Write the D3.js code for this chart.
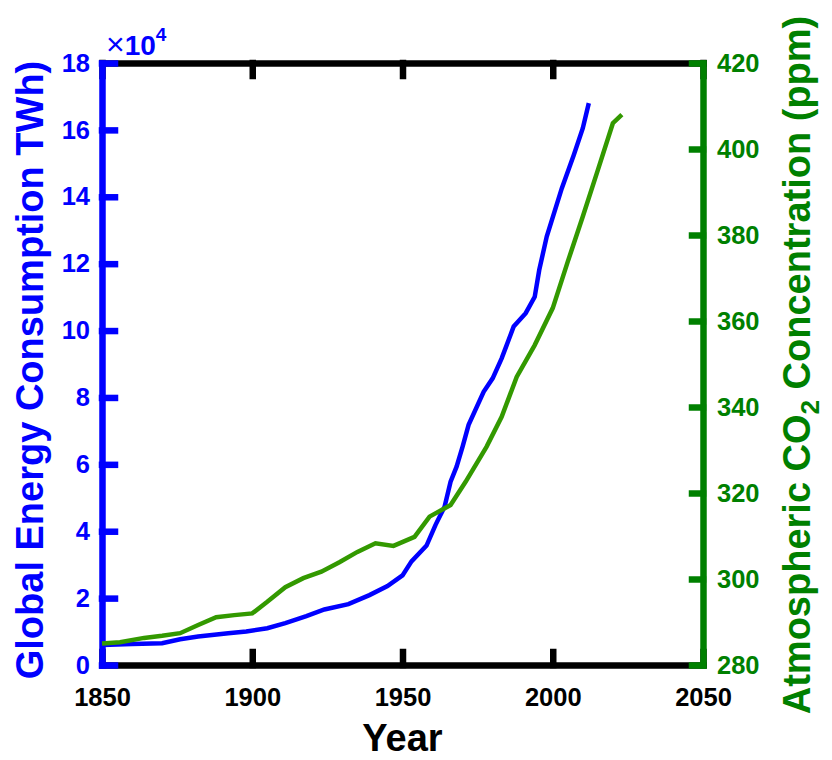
<!DOCTYPE html>
<head>
  <meta charset="utf-8">
  <script src="https://d3js.org/d3.v7.min.js"></script>
  <style>
    body { margin: 0; background: #fff; }
    svg { display: block; }
    text { font-family: "Liberation Sans", Arial, sans-serif; font-weight: bold; }
  </style>
</head>

<body>
  <svg width="832" height="760"></svg>
  <script>
    // global energy consumption, units of 10^4 TWh
    var energyYears = [1850, 1860, 1870, 1876, 1882, 1892, 1898, 1905, 1911, 1918, 1924, 1932, 1939, 1945, 1950,
      1953, 1958, 1961, 1964, 1966, 1968, 1970, 1972, 1977, 1980, 1983, 1987, 1991, 1994, 1995.5, 1998,
      2003, 2007, 2010, 2012];
    var energyValues = [0.60, 0.63, 0.65, 0.77, 0.85, 0.95, 1.00, 1.10, 1.25, 1.46, 1.66, 1.82, 2.09, 2.36, 2.68,
      3.10, 3.57, 4.19, 4.73, 5.48, 5.93, 6.53, 7.18, 8.17, 8.57, 9.17, 10.12, 10.52, 11.01, 11.81, 12.81,
      14.25, 15.25, 16.05, 16.80];

    // atmospheric CO2, ppm
    var co2Years = [1850, 1856, 1864, 1870, 1876, 1882, 1888, 1894, 1900, 1905, 1911, 1917, 1923, 1929, 1935,
      1941, 1947, 1954, 1959, 1966, 1971, 1978, 1983, 1988, 1994, 2000, 2005, 2010, 2015, 2020, 2023];
    var co2Values = [285.0, 285.3, 286.3, 286.8, 287.4, 289.3, 291.1, 291.6, 292.0, 294.7, 298.1, 300.2, 301.7, 303.9, 306.3,
      308.3, 307.7, 309.8, 314.5, 317.2, 322.6, 330.8, 337.7, 347.0, 354.4, 363.0, 373.8, 384.3, 395.1, 406.0, 408.0];

    var yearTicks = [1850, 1900, 1950, 2000, 2050];
    var energyTicks = [0, 2, 4, 6, 8, 10, 12, 14, 16, 18];
    var co2Ticks = [280, 300, 320, 340, 360, 380, 400, 420];

    var blue = '#0000ff';
    var green = '#008000';
    var greenLine = '#339900';
    var plotL = 102, plotR = 703, plotT = 63, plotB = 665;

    var svg = d3.select('svg');

    var x = d3.scaleLinear().domain([1850, 2050]).range([plotL, plotR]);
    var yE = d3.scaleLinear().domain([0, 18]).range([plotB, plotT]);
    var yC = d3.scaleLinear().domain([280, 420]).range([plotB, plotT]);

    function style(g, color) {
      g.selectAll('path, line').attr('stroke', color).attr('stroke-width', 6.5).attr('stroke-linecap', 'square');
      g.selectAll('text').attr('fill', color).style('font-size', '25.5px')
        .style('font-family', '"Liberation Sans", Arial, sans-serif').style('font-weight', 'bold');
    }

    // black box lines first
    svg.append('g')
      .attr('transform', 'translate(0,' + plotT + ')')
      .call(d3.axisTop(x).tickValues(yearTicks).tickSize(-13).tickSizeOuter(0).tickFormat(''))
      .call(style, '#000');
    svg.append('g')
      .attr('transform', 'translate(0,' + plotB + ')')
      .call(d3.axisBottom(x).tickValues(yearTicks).tickSize(-13).tickSizeOuter(0).tickPadding(23).tickFormat(d3.format('d')))
      .call(style, '#000');

    svg.append('g')
      .attr('transform', 'translate(' + plotL + ',0)')
      .call(d3.axisLeft(yE).tickValues(energyTicks).tickSize(-13).tickSizeOuter(0).tickPadding(12).tickFormat(d3.format('d')))
      .call(style, blue);
    svg.append('g')
      .attr('transform', 'translate(' + plotR + ',0)')
      .call(d3.axisRight(yC).tickValues(co2Ticks).tickSize(-11).tickSizeOuter(0).tickPadding(14).tickFormat(d3.format('d')))
      .call(style, green);

    // lines
    var energyLine = d3.line()
      .x(function(d, i) { return x(energyYears[i]); })
      .y(function(d) { return yE(d); });
    var co2Line = d3.line()
      .x(function(d, i) { return x(co2Years[i]); })
      .y(function(d) { return yC(d); });

    svg.append('path')
      .attr('d', energyLine(energyValues))
      .attr('fill', 'none').attr('stroke', blue).attr('stroke-width', 4.5);
    svg.append('path')
      .attr('d', co2Line(co2Values))
      .attr('fill', 'none').attr('stroke', greenLine).attr('stroke-width', 4.5);

    // exponent label
    var expo = svg.append('text').attr('x', 106).attr('y', 55).attr('fill', blue).style('font-size', '28px');
    expo.append('tspan').text('\u00d7').style('font-weight', 'normal').style('font-size', '32px');
    expo.append('tspan').text('10');
    expo.append('tspan').text('4').attr('dy', -14).style('font-size', '19px');

    // axis titles
    svg.append('text')
      .attr('transform', 'translate(' + ((plotL + plotR) / 2) + ',751)')
      .attr('text-anchor', 'middle')
      .style('font-size', '38px')
      .text('Year');

    svg.append('text')
      .attr('transform', 'translate(43,370)rotate(-90)')
      .attr('text-anchor', 'middle')
      .attr('fill', blue)
      .style('font-size', '38px')
      .text('Global Energy Consumption TWh)');

    var t2 = svg.append('text')
      .attr('transform', 'translate(810,365)rotate(-90)')
      .attr('text-anchor', 'middle')
      .attr('fill', green)
      .style('font-size', '38px');
    t2.append('tspan').text('Atmospheric CO');
    t2.append('tspan').text('2').attr('dy', 9).style('font-size', '26px');
    t2.append('tspan').text(' Concentration (ppm)').attr('dy', -9);
  </script>
</body>
